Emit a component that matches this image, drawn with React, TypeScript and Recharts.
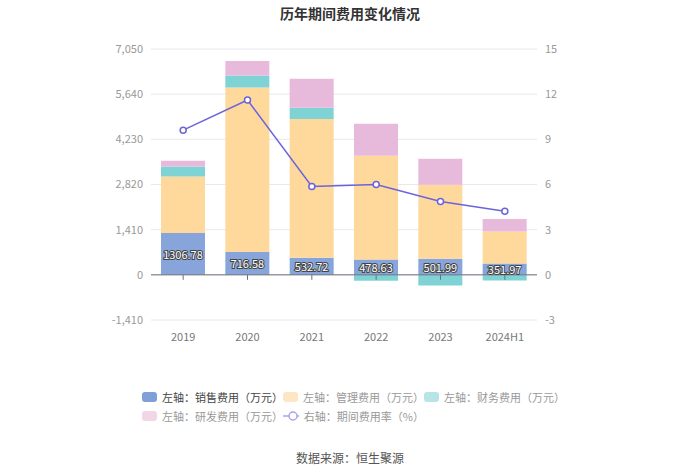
import React from 'react';
import { ComposedChart, Bar, Line, XAxis, YAxis, CartesianGrid, ReferenceLine, LabelList } from 'recharts';

// data
const years = ['2019', '2020', '2021', '2022', '2023', '2024H1'];
const salesCost = [1306.78, 716.58, 532.72, 478.63, 501.99, 351.97];
const adminCost = [1764, 5134, 4330, 3239, 2310, 1001];
const financeCost = [313, 375, 354, -187, -333, -177];
const rdCost = [177, 449, 906, 999, 812, 387];
const costRate = [9.61, 11.61, 5.87, 6.0, 4.87, 4.23];

const leftTicks = [-1410, 0, 1410, 2820, 4230, 5640, 7050];
const rightTicks = [-3, 0, 3, 6, 9, 12, 15];

const COLORS = {
  sales: '#87A5DA',
  admin: '#FFD89B',
  finance: '#7FD3D4',
  rd: '#E7B9DB',
  rate: '#6B64DC',
};

const FONT = '"Noto Sans CJK SC", "Noto Sans", sans-serif';

// layout of the plot box
const PLOT_TOP = 49;
const PLOT_BOTTOM = 320;
const LEFT_MIN = leftTicks[0];
const LEFT_MAX = leftTicks[leftTicks.length - 1];
const ZERO_Y = PLOT_BOTTOM - ((PLOT_BOTTOM - PLOT_TOP) * (0 - LEFT_MIN)) / (LEFT_MAX - LEFT_MIN);

const data = years.map((year, i) => ({
  year,
  sales: salesCost[i],
  admin: adminCost[i],
  finance: financeCost[i],
  rd: rdCost[i],
  rate: costRate[i],
}));

const legendItems = [
  [
    { label: '左轴：销售费用（万元）', color: '#7F9FD7', text: '#444' },
    { label: '左轴：管理费用（万元）', color: '#FDE6C4', text: '#999' },
    { label: '左轴：财务费用（万元）', color: '#B7E5E6', text: '#999' },
  ],
  [
    { label: '左轴：研发费用（万元）', color: '#F2D6E7', text: '#999' },
    { label: '右轴：期间费用率（%）', color: '#A9A4EC', text: '#999', line: true },
  ],
];

const XTick = (props: any) => {
  const { x, y, payload } = props;
  return (
    <g>
      <line x1={x} x2={x} y1={ZERO_Y} y2={ZERO_Y + 5} stroke="#6E7079" />
      <text x={x} y={y + 3} textAnchor="middle" dominantBaseline="hanging" fill="#777" fontSize={11} fontFamily={FONT}>
        {payload.value}
      </text>
    </g>
  );
};

const SalesLabel = (props: any) => {
  const { x, y, width, height, value } = props;
  return (
    <text
      x={x + width / 2}
      y={y + height / 2}
      textAnchor="middle"
      dominantBaseline="central"
      fontSize={11}
      fontFamily={FONT}
      fill="#fff"
      stroke="#444"
      strokeWidth={2}
      paintOrder="stroke"
    >
      {value}
    </text>
  );
};

export default function App() {
  return (
    <div style={{ position: 'absolute', left: 0, top: 0, width: 700, height: 473, background: '#fff', fontFamily: FONT }}>
      <div style={{ position: 'absolute', top: 3, width: 700, textAlign: 'center', fontSize: 14, fontWeight: 'bold', color: '#333' }}>
        历年期间费用变化情况
      </div>

      <div style={{ position: 'absolute', left: 0, top: 0 }}>
        <ComposedChart
          width={700}
          height={361}
          data={data}
          stackOffset="sign"
          margin={{ top: PLOT_TOP, right: 103, bottom: 11, left: 91 }}
        >
          <CartesianGrid vertical={false} stroke="#E8E8EE" yAxisId="left" />
          <XAxis
            dataKey="year"
            axisLine={false}
            tickLine={false}
            height={30}
            tick={<XTick />}
            interval={0}
          />
          <YAxis
            yAxisId="left"
            domain={[LEFT_MIN, LEFT_MAX]}
            ticks={leftTicks}
            width={60}
            axisLine={false}
            tickLine={false}
            tickSize={6}
            tickFormatter={(v: number) => v.toLocaleString('en-US')}
            tick={{ fill: '#999', fontSize: 11, fontFamily: FONT }}
          />
          <YAxis
            yAxisId="right"
            orientation="right"
            domain={[-3, 15]}
            ticks={rightTicks}
            width={60}
            axisLine={false}
            tickLine={false}
            tickSize={6}
            tick={{ fill: '#999', fontSize: 11, fontFamily: FONT, textAnchor: 'start' }}
          />
          <Bar yAxisId="left" dataKey="sales" stackId="cost" fill={COLORS.sales} barSize={44} isAnimationActive={false}>
            <LabelList dataKey="sales" content={<SalesLabel />} />
          </Bar>
          <Bar yAxisId="left" dataKey="admin" stackId="cost" fill={COLORS.admin} barSize={44} isAnimationActive={false} />
          <Bar yAxisId="left" dataKey="finance" stackId="cost" fill={COLORS.finance} barSize={44} isAnimationActive={false} />
          <Bar yAxisId="left" dataKey="rd" stackId="cost" fill={COLORS.rd} barSize={44} isAnimationActive={false} />
          <ReferenceLine yAxisId="left" y={0} stroke="#6E7079" />
          <Line
            yAxisId="right"
            dataKey="rate"
            stroke={COLORS.rate}
            strokeWidth={1.5}
            dot={{ r: 3, fill: '#fff', stroke: COLORS.rate, strokeWidth: 1.5 }}
            isAnimationActive={false}
          />
        </ComposedChart>
      </div>

      {/* legend */}
      {legendItems.map((row, r) => (
        <div key={r} style={{ position: 'absolute', left: 142, top: 389 + r * 19, display: 'flex', fontSize: 11 }}>
          {row.map((item, i) => (
            <div key={i} style={{ display: 'flex', alignItems: 'center', width: 141, height: 16 }}>
              {item.line ? (
                <svg width={20} height={12} style={{ marginRight: 5 }}>
                  <line x1={0} x2={20} y1={6} y2={6} stroke={item.color} strokeWidth={1.5} />
                  <circle cx={10} cy={6} r={4} fill="#fff" stroke={item.color} strokeWidth={1.5} />
                </svg>
              ) : (
                <div style={{ width: 20, height: 10, borderRadius: 3, background: item.color, marginRight: 5 }} />
              )}
              <span style={{ color: item.text, whiteSpace: 'nowrap' }}>{item.label}</span>
            </div>
          ))}
        </div>
      ))}

      <div style={{ position: 'absolute', top: 449, width: 700, textAlign: 'center', fontSize: 12, color: '#555' }}>
        数据来源：恒生聚源
      </div>
    </div>
  );
}
